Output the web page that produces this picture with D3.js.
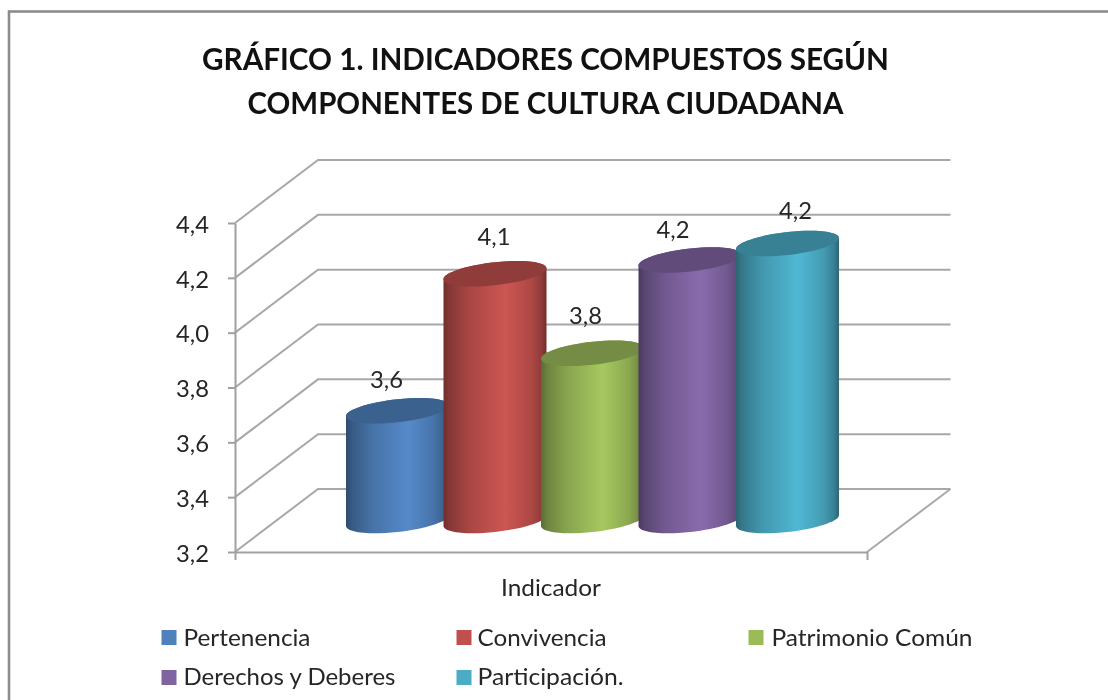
<!DOCTYPE html>
<html>
<head>
<meta charset="utf-8">
<script src="https://cdn.jsdelivr.net/npm/d3@7"></script>
<style>
  html, body { margin: 0; padding: 0; background: #fff; overflow: hidden; }
  svg { filter: blur(0.45px); }
  text { font-family: Lato, "Open Sans", sans-serif; fill: #262626; }
  .title { font-size: 30px; font-weight: 700; fill: #111; }
  .grid { fill: none; stroke: #a8a8a8; stroke-width: 2; }
  .axis path, .axis line { stroke: #a0a0a0; stroke-width: 2; }
  .axis text { font-size: 24px; font-family: Lato, sans-serif; fill: #262626; }
  .label { font-size: 24px; }
</style>
</head>
<body>
<svg id="chart" width="1108" height="700"></svg>
<script>
// data
const categories = ['Pertenencia', 'Convivencia', 'Patrimonio Común', 'Derechos y Deberes', 'Participación.'];
const values = [3.60, 4.10, 3.81, 4.15, 4.21];
const colors = ['#4f81bd', '#c0504d', '#9bbb59', '#8064a2', '#4bacc6'];
const yTicks = [3.2, 3.4, 3.6, 3.8, 4.0, 4.2, 4.4];
const titleLines = ['GRÁFICO 1. INDICADORES COMPUESTOS SEGÚN', 'COMPONENTES DE CULTURA CIUDADANA'];
const xTitle = 'Indicador';

// layout
const front = {left: 235, right: 867, top: 223, bottom: 552};
const depth = {dx: 83, dy: -63};
const labelNudge = [[-11, -31], [-1, -37], [-7, -37], [-17, -30], [8, -33]];
const legendCols = [[161.5, 183.5], [456.5, 477.5], [748.5, 771.5]];
const legendRows = [[630, 646], [670, 685]];
const legendWidths = [127, 129, 201, 212, 146];
const cylW = 103;
const tilt = 5.5; // drop of the left end of the ellipse below its centre
const capH = 11.5;
const k = 0.5523;

const svg = d3.select('#chart');
const comma = d3.formatLocale({decimal: ',', thousands: '.', grouping: [3], currency: ['', '']}).format('.1f');

const y = d3.scaleLinear().domain([3.2, 4.4]).range([front.bottom, front.top]);
const x = d3.scaleBand().domain(categories).range([348.75, 836.25]);
const xEdge = d3.scaleLinear().domain([0, 1]).range([front.left, front.right]);
const valueOf = new Map(categories.map((c, i) => [c, values[i]]));

// outer frame runs off the right and bottom of the picture
svg.append('rect')
  .attr('x', 9).attr('y', 11.5).attr('width', 1300).attr('height', 900)
  .attr('fill', 'none').attr('stroke', '#8c8c8c').attr('stroke-width', 2.6);

// title
svg.selectAll('.title').data(titleLines).join('text')
  .attr('class', 'title')
  .attr('x', 545.5)
  .attr('y', (d, i) => i === 0 ? 70 : 113.5)
  .attr('text-anchor', 'middle')
  .attr('textLength', (d, i) => i === 0 ? 687 : 596)
  .attr('lengthAdjust', 'spacingAndGlyphs')
  .text((d) => d);

// walls: one polyline per tick, side wall then back wall
const backRight = front.right + depth.dx + 0.5;
svg.selectAll('.grid').data(yTicks).join('path')
  .attr('class', 'grid')
  .attr('d', (d) => {
    const p = d3.path();
    p.moveTo(front.left, y(d));
    p.lineTo(front.left + depth.dx, y(d) + depth.dy);
    p.lineTo(backRight, y(d) + depth.dy);
    return p.toString();
  });

// floor right edge
svg.append('line').attr('class', 'grid')
  .attr('x1', front.right).attr('y1', front.bottom)
  .attr('x2', backRight).attr('y2', front.bottom + depth.dy);

// axes
const yAxis = d3.axisLeft(y).tickValues(yTicks).tickSize(7).tickPadding(19).tickSizeOuter(0)
  .tickFormat((d) => comma(d));
svg.append('g').attr('class', 'axis').attr('transform', `translate(${front.left},0)`).call(yAxis)
  .selectAll('text')
  .attr('y', 1.5)
  .attr('textLength', 33).attr('lengthAdjust', 'spacingAndGlyphs');

const xAxis = d3.axisBottom(xEdge).tickValues([0, 1]).tickSize(8).tickSizeOuter(0).tickFormat('');
svg.append('g').attr('class', 'axis').attr('transform', `translate(0,${front.bottom})`).call(xAxis);

svg.append('text').attr('class', 'label')
  .attr('x', 551).attr('y', 596)
  .attr('text-anchor', 'middle')
  .attr('textLength', 100).attr('lengthAdjust', 'spacingAndGlyphs')
  .text(xTitle);

// gradients
function shade(hex, m) {
  const c = d3.rgb(hex);
  return d3.rgb(c.r * m, c.g * m, c.b * m).formatHex();
}
const defs = svg.append('defs');
const stops = [[0, 0.58], [0.06, 0.7], [0.25, 0.88], [0.6, 1.07], [0.85, 0.9], [0.95, 0.75], [1, 0.58]];
categories.forEach((c, i) => {
  const g = defs.append('linearGradient').attr('id', `cyl${i}`);
  stops.forEach(([o, m]) => {
    g.append('stop').attr('offset', o).attr('stop-color', shade(colors[i], m));
  });
});

// cylinder ends are sheared ellipses, so the sides meet them with a vertical tangent
const midY = (v) => y(v) + depth.dy / 2;
function pt(cx, cy, a, b) {
  return [cx + a * cylW / 2, cy - a * tilt + b * capH];
}
function frontArc(p, cx, cy) {
  p.bezierCurveTo(...pt(cx, cy, -1, k), ...pt(cx, cy, -k, 1), ...pt(cx, cy, 0, 1));
  p.bezierCurveTo(...pt(cx, cy, k, 1), ...pt(cx, cy, 1, k), ...pt(cx, cy, 1, 0));
}
function backArc(p, cx, cy) {
  p.bezierCurveTo(...pt(cx, cy, 1, -k), ...pt(cx, cy, k, -1), ...pt(cx, cy, 0, -1));
  p.bezierCurveTo(...pt(cx, cy, -k, -1), ...pt(cx, cy, -1, -k), ...pt(cx, cy, -1, 0));
}
const center = (d) => x(d) + x.bandwidth() / 2;

// later cylinders sit on top of earlier ones
const bars = svg.selectAll('.cyl').data(categories).join('g').attr('class', 'cyl');

bars.append('path')
  .attr('fill', (d, i) => `url(#cyl${i})`)
  .attr('d', (d) => {
    const cx = center(d);
    const yb = midY(y.domain()[0]);
    const yt = midY(valueOf.get(d));
    const p = d3.path();
    p.moveTo(...pt(cx, yt, -1, 0));
    p.lineTo(...pt(cx, yb, -1, 0));
    frontArc(p, cx, yb);
    p.lineTo(...pt(cx, yt, 1, 0));
    backArc(p, cx, yt);
    p.closePath();
    return p.toString();
  });

bars.append('path')
  .attr('fill', (d, i) => shade(colors[i], 0.75))
  .attr('d', (d) => {
    const cx = center(d);
    const yt = midY(valueOf.get(d));
    const p = d3.path();
    p.moveTo(...pt(cx, yt, -1, 0));
    frontArc(p, cx, yt);
    backArc(p, cx, yt);
    p.closePath();
    return p.toString();
  });

// value labels
svg.selectAll('.value').data(categories).join('text')
  .attr('class', 'label value')
  .attr('text-anchor', 'middle')
  .attr('x', (d, i) => center(d) + labelNudge[i][0])
  .attr('y', (d, i) => midY(valueOf.get(d)) + labelNudge[i][1] + 8)
  .attr('textLength', 33).attr('lengthAdjust', 'spacingAndGlyphs')
  .text((d) => comma(valueOf.get(d)));

// legend
const legend = svg.selectAll('.legend').data(categories).join('g').attr('class', 'legend');
legend.append('rect')
  .attr('x', (d, i) => legendCols[i % 3][0])
  .attr('y', (d, i) => legendRows[Math.floor(i / 3)][0])
  .attr('width', 15).attr('height', 15)
  .attr('fill', (d, i) => colors[i]);
legend.append('text').attr('class', 'label')
  .attr('x', (d, i) => legendCols[i % 3][1])
  .attr('y', (d, i) => legendRows[Math.floor(i / 3)][1])
  .attr('textLength', (d, i) => legendWidths[i])
  .attr('lengthAdjust', 'spacingAndGlyphs')
  .text((d) => d);
</script>
</body>
</html>
